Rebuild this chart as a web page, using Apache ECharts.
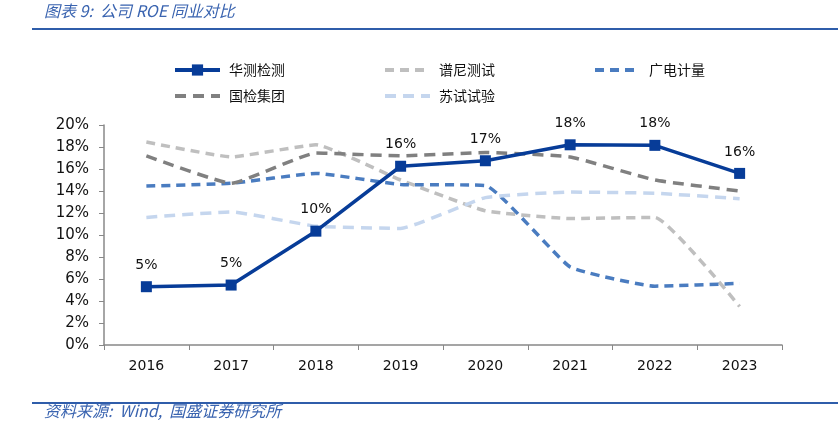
<!DOCTYPE html>
<html><head><meta charset="utf-8">
<script src="https://cdn.jsdelivr.net/npm/echarts@6/dist/echarts.min.js"></script>
<style>html,body{margin:0;padding:0;background:#fff}#c{width:838px;height:423px}</style>
</head><body><div id="c"></div>
<script>
const years = ['2016','2017','2018','2019','2020','2021','2022','2023'];
const huace = [5.3, 5.45, 10.35, 16.25, 16.75, 18.2, 18.15, 15.6];
const puni = [18.45, 17.1, 18.2, 15.0, 12.2, 11.5, 11.6, 3.5];
const guojian = [17.2, 14.7, 17.45, 17.2, 17.5, 17.1, 15.0, 14.0];
const guangdian = [14.45, 14.7, 15.6, 14.6, 14.5, 7.1, 5.35, 5.6];
const sushi = [11.6, 12.1, 10.8, 10.6, 13.4, 13.9, 13.8, 13.3];
const yTicks = [0, 2, 4, 6, 8, 10, 12, 14, 16, 18, 20];

const cjk = '"Noto Sans CJK SC", sans-serif';
const num = '"DejaVu Sans", sans-serif';
const chart = echarts.init(document.getElementById('c'));
function dashed(name, data, color, dash) {
  return {name, type:'line', data, smooth:0.12, symbol:'none',
    lineStyle:{color, width:3.5, type:dash}, itemStyle:{color}, z:2};
}
function lg(name, left, top, hideSym) {
  const o = {data:[name], left, top, itemWidth:45, itemHeight:14, itemGap:0,
    lineStyle:{width:4},
    textStyle:{fontFamily:cjk, fontSize:14, color:'#111', padding:[0,0,0,4]}};
  if (hideSym) o.itemStyle = {opacity:0};
  return o;
}
chart.setOption({
  animation:false,
  grid:{left:104, right:56, top:125, bottom:78},
  legend:[lg('华测检测',168,58,false), lg('谱尼测试',378,58,true), lg('广电计量',588,58,true), lg('国检集团',168,84,true), lg('苏试试验',378,84,true)],
  xAxis:{type:'category', data:years, boundaryGap:true,
    axisLine:{lineStyle:{color:'#888', width:1.5}},
    axisTick:{show:true, inside:false, length:5, lineStyle:{color:'#888'}},
    axisLabel:{fontFamily:num, fontSize:14, color:'#111', margin:14}},
  yAxis:{type:'value', min:0, max:20, interval:2,
    axisLine:{show:true, lineStyle:{color:'#888', width:1.5}},
    axisTick:{show:true, length:5, lineStyle:{color:'#888'}},
    splitLine:{show:false},
    axisLabel:{fontFamily:num, fontSize:15, color:'#111', margin:15,
      formatter:v=> yTicks.includes(v) ? v+'%' : ''}},
  series:[
    {name:'华测检测', type:'line', data:huace, symbol:'rect', symbolSize:11,
      lineStyle:{color:'#073C98', width:3.5}, itemStyle:{color:'#073C98'}, z:5,
      label:{show:true, position:'top', distance:9, fontFamily:num, fontSize:14, color:'#111',
        formatter:p=>Math.round(p.value)+'%'}},
    dashed('谱尼测试', puni, '#BFBFBF', [9,6]),
    dashed('广电计量', guangdian, '#4A7CC0', [9,6]),
    dashed('国检集团', guojian, '#808080', [11,7]),
    dashed('苏试试验', sushi, '#C5D6EE', [11,7])
  ],
  graphic:[
    {type:'text', left:44, top:3, style:{text:'图表 9:  公司 ROE 同业对比', font:'italic 16px '+cjk, fill:'#3A64B0'}},
    {type:'rect', shape:{x:32, y:28, width:806, height:2}, style:{fill:'#2F5DAA'}},
    {type:'rect', shape:{x:32, y:402, width:806, height:2}, style:{fill:'#2F5DAA'}},
    {type:'text', left:44, top:403, style:{text:'资料来源:  Wind,  国盛证券研究所', font:'italic 16px '+cjk, fill:'#3A64B0'}}
  ]
});
</script></body></html>
